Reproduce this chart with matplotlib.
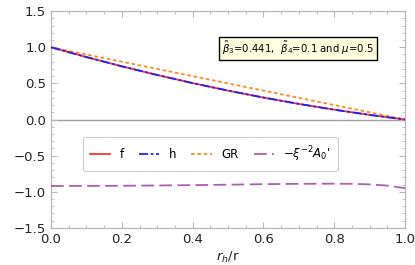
import matplotlib
matplotlib.use("Agg")
import matplotlib.pyplot as plt
from matplotlib.ticker import MultipleLocator

x_vals = [0.0, 0.1, 0.2, 0.3, 0.4, 0.5, 0.6, 0.7, 0.8, 0.9, 1.0]
f_vals = [1.0, 0.864, 0.736, 0.616, 0.504, 0.40, 0.304, 0.216, 0.136, 0.064, 0.0]
h_vals = [1.0, 0.864, 0.736, 0.616, 0.504, 0.40, 0.304, 0.216, 0.136, 0.064, 0.0]
gr_vals = [1.0, 0.9, 0.8, 0.7, 0.6, 0.5, 0.4, 0.3, 0.2, 0.1, 0.0]
xa_vals = [0.0, 0.1, 0.2, 0.3, 0.4, 0.5, 0.6, 0.7, 0.8, 0.85, 0.9, 0.95, 1.0]
a0_vals = [-0.920, -0.919, -0.917, -0.913, -0.908, -0.902, -0.895, -0.890, -0.888,
           -0.890, -0.898, -0.915, -0.950]

xticks = [0.0, 0.2, 0.4, 0.6, 0.8, 1.0]
yticks = [-1.5, -1.0, -0.5, 0.0, 0.5, 1.0, 1.5]
labels = ["f", "h", "GR", r"$-\xi^{-2}A_0$'"]

fig = plt.figure(figsize=(4.15, 2.65), dpi=100)
ax = fig.add_axes([0.123, 0.14, 0.853, 0.818])

ax.axhline(0, color="#a0a0a0", lw=1.0, zorder=1)
ax.plot(x_vals, f_vals, color="#ff3030", lw=1.3, label=labels[0], zorder=3)
ax.plot(x_vals, h_vals, color="#2020ff", lw=1.3, ls=(0, (5, 1.5, 1.5, 1.5)), label=labels[1], zorder=4)
ax.plot(x_vals, gr_vals, color="#ff8c1a", lw=1.3, ls=(0, (2, 1.5)), label=labels[2], zorder=2)
ax.plot(xa_vals, a0_vals, color="#a040a8", lw=1.3, ls=(0, (7, 3)), alpha=0.85, label=labels[3], zorder=3)

ax.set_xlim(0, 1.0)
ax.set_ylim(-1.5, 1.5)
ax.set_xticks(xticks)
ax.set_yticks(yticks)
ax.xaxis.set_minor_locator(MultipleLocator(0.05))
ax.yaxis.set_minor_locator(MultipleLocator(0.1))
ax.set_xticklabels([f"{t:.1f}" for t in xticks])
ax.set_yticklabels([f"{t:.1f}".replace("-", "\u2212") for t in yticks])
for s in ax.spines.values():
    s.set_color("#b8b8b8")
    s.set_linewidth(0.9)
ax.tick_params(which="both", direction="in", colors="#b8b8b8", labelcolor="#222222",
               top=True, right=True, labelsize=9.5)
ax.tick_params(which="major", length=4, width=0.8)
ax.tick_params(which="minor", length=2, width=0.6)
ax.set_xlabel(r"$r_h$/r", fontsize=9.5, labelpad=3, color="#222222")

leg = ax.legend(ncol=4, loc="center", bbox_to_anchor=(0.45, 0.341), fontsize=8.5,
                frameon=True, fancybox=True, edgecolor="#c0c0c0", handlelength=1.7,
                columnspacing=1.3, handletextpad=0.8, borderpad=0.6, borderaxespad=0)
leg.get_frame().set_linewidth(0.8)

ax.text(0.697, 0.827, r"$\tilde{\beta}_3$=0.441,  $\tilde{\beta}_4$=0.1 and $\mu$=0.5",
        transform=ax.transAxes, ha="center", va="center", fontsize=7.3,
        bbox=dict(boxstyle="square,pad=0.3", facecolor="#ffffe0", edgecolor="black", linewidth=1.0))

fig.savefig("out.png", dpi=100)
